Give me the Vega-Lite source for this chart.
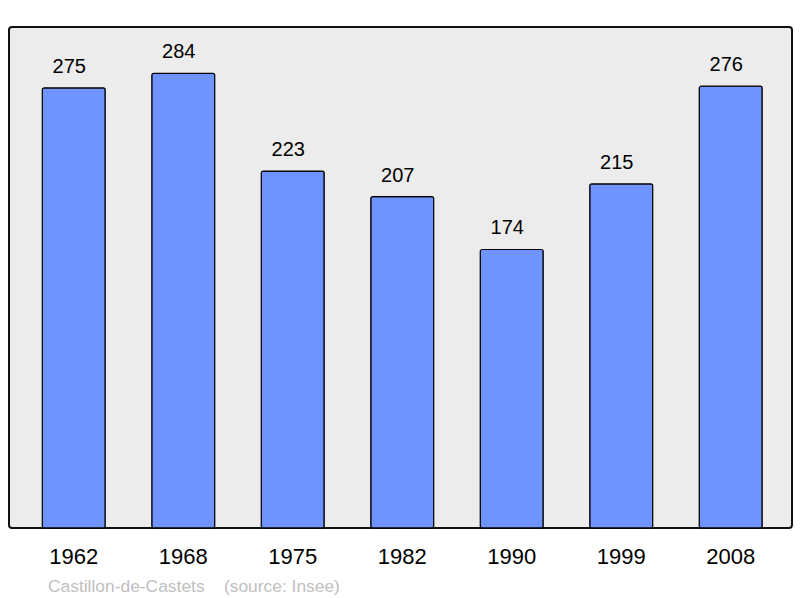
{
  "$schema": "https://vega.github.io/schema/vega-lite/v6.json",
  "autosize": "none",
  "width": 783,
  "height": 501,
  "padding": {"left": 9, "top": 27, "right": 8, "bottom": 70},
  "background": "white",
  "config": {
    "view": {"fill": "#ececec", "stroke": "#111111", "strokeWidth": 2, "cornerRadius": 3},
    "font": "Liberation Sans"
  },
  "title": {
    "text": "Castillon-de-Castets\u00a0\u00a0\u00a0\u00a0(source: Insee)",
    "orient": "bottom",
    "anchor": "start",
    "dx": 39,
    "offset": 11,
    "fontSize": 17.4,
    "fontWeight": "normal",
    "color": "#c0c0c0",
    "font": "Liberation Sans"
  },
  "data": {
    "values": [
      {"year": "1962", "pop": 275},
      {"year": "1968", "pop": 284},
      {"year": "1975", "pop": 223},
      {"year": "1982", "pop": 207},
      {"year": "1990", "pop": 174},
      {"year": "1999", "pop": 215},
      {"year": "2008", "pop": 276}
    ]
  },
  "encoding": {
    "x": {
      "field": "year",
      "type": "ordinal",
      "scale": {"paddingInner": 0.425, "paddingOuter": 0.304, "range": [0, 786.5]},
      "axis": {
        "title": null,
        "domain": false,
        "ticks": false,
        "labelAngle": 0,
        "labelFontSize": 22,
        "labelColor": "#000000",
        "labelPadding": 18,
        "labelFont": "Liberation Sans"
      }
    },
    "y": {
      "field": "pop",
      "type": "quantitative",
      "scale": {"domain": [0, 313]},
      "axis": null
    }
  },
  "layer": [
    {
      "mark": {"type": "bar", "fill": "#7094ff", "stroke": "#000000", "strokeWidth": 1.2, "cornerRadius": 2}
    },
    {
      "mark": {"type": "text", "baseline": "bottom", "dx": -4.5, "dy": -11, "fontSize": 20, "color": "#000000", "font": "Liberation Sans"},
      "encoding": {"text": {"field": "pop", "type": "quantitative"}}
    }
  ]
}
